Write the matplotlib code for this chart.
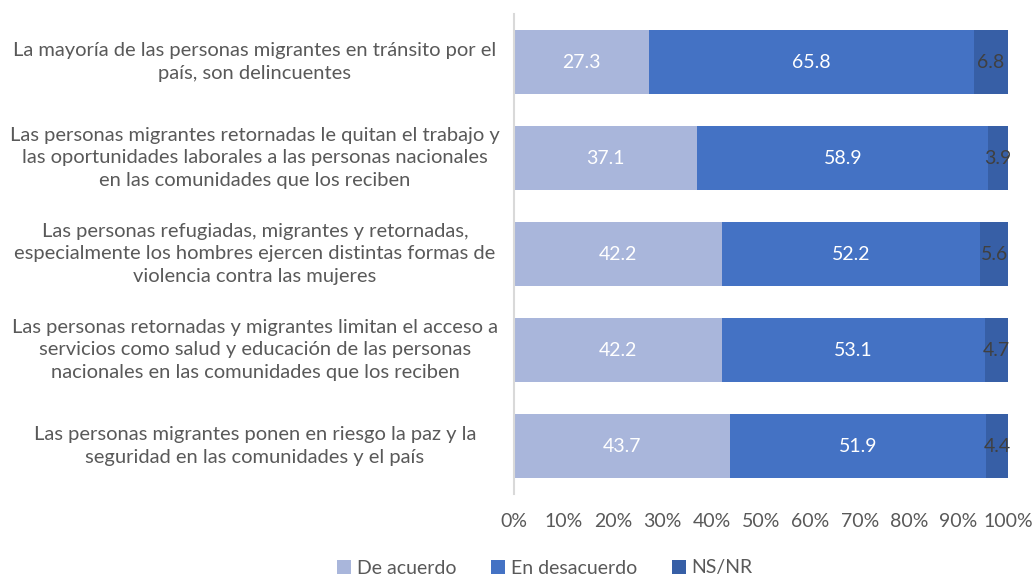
import numpy as np
import matplotlib.pyplot as plt
import matplotlib.transforms as mtransforms
from matplotlib.patches import Patch

plt.rcParams['font.family'] = ['Lato', 'DejaVu Sans']

categories = [
    "La mayoría de las personas migrantes en tránsito por el\npaís, son delincuentes",
    "Las personas migrantes retornadas le quitan el trabajo y\nlas oportunidades laborales a las personas nacionales\nen las comunidades que los reciben",
    "Las personas refugiadas, migrantes y retornadas,\nespecialmente los hombres ejercen distintas formas de\nviolencia contra las mujeres",
    "Las personas retornadas y migrantes limitan el acceso a\nservicios como salud y educación de las personas\nnacionales en las comunidades que los reciben",
    "Las personas migrantes ponen en riesgo la paz y la\nseguridad en las comunidades y el país",
]
de_acuerdo = [27.3, 37.1, 42.2, 42.2, 43.7]
en_desacuerdo = [65.8, 58.9, 52.2, 53.1, 51.9]
ns_nr = [6.8, 3.9, 5.6, 4.7, 4.4]
series_names = ["De acuerdo", "En desacuerdo", "NS/NR"]
colors = ["#A9B6DB", "#4472C4", "#375FA6"]
label_colors = ["white", "white", "#404040"]
text_color = "#595959"
fs = 14

W, H = 1034, 580
fig = plt.figure(figsize=(W / 100, H / 100), dpi=100)
ax = fig.add_axes([514 / W, 1 - 494 / H, (1008 - 514) / W, (494 - 14) / H])

y = np.arange(len(categories))
left = np.zeros(len(categories))
for vals, col, lc in zip([de_acuerdo, en_desacuerdo, ns_nr], colors, label_colors):
    vals = np.array(vals)
    ax.barh(y, vals, left=left, height=0.667, color=col, edgecolor="none")
    for yi, l, v in zip(y, left, vals):
        ax.text(l + v / 2, yi, f"{v:.1f}", ha="center", va="center",
                color=lc, fontsize=fs)
    left = left + vals

ax.set_xlim(0, 100)
ax.set_ylim(len(categories) - 0.5, -0.5)
ax.set_yticks([])
ax.set_xticks(np.arange(0, 101, 10))
ax.set_xticklabels([f"{t}%" for t in range(0, 101, 10)], color=text_color, fontsize=fs)
ax.tick_params(axis="x", length=0, pad=14)
for s in ["top", "right", "bottom"]:
    ax.spines[s].set_visible(False)
ax.spines["left"].set_color("#D9D9D9")
ax.spines["left"].set_linewidth(1.5)

trans = mtransforms.blended_transform_factory(fig.transFigure, ax.transData)
for yi, cat in zip(y, categories):
    ax.text(255 / W, yi, cat, transform=trans, ha="center", va="center",
            multialignment="center", color=text_color, fontsize=14.5, linespacing=1.42)

handles = [Patch(facecolor=c, edgecolor="none") for c in colors]
fig.legend(handles, series_names, loc="center", bbox_to_anchor=(545 / W, 1 - 568 / H),
           ncol=3, frameon=False, fontsize=fs, labelcolor=text_color,
           handlelength=0.7, handleheight=0.7, handletextpad=0.3, columnspacing=1.8)

fig.savefig("out.png", dpi=100)
